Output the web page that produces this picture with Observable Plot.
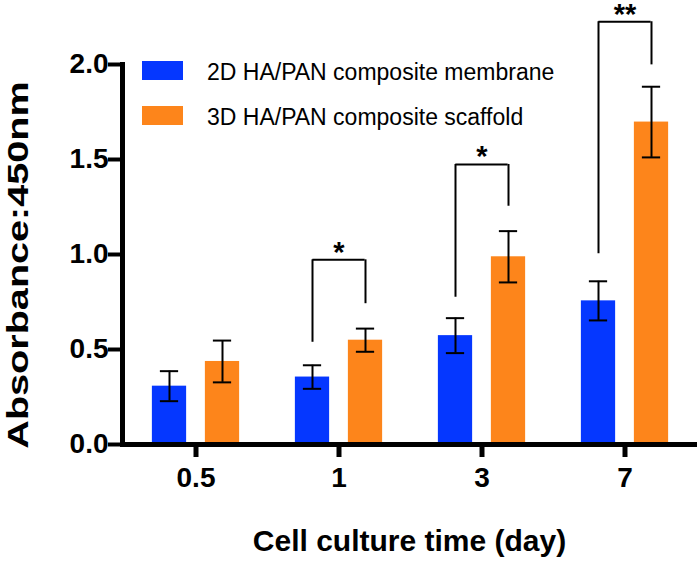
<!DOCTYPE html>
<html>
<head>
<meta charset="utf-8">
<script src="https://cdn.jsdelivr.net/npm/d3@7"></script>
<script src="https://cdn.jsdelivr.net/npm/@observablehq/plot@0.6"></script>
<style>
  html, body { margin: 0; padding: 0; background: #fff; }
  #chart { width: 698px; height: 561px; }
</style>
</head>
<body>
<div id="chart"></div>
<script>
// ---- data ----
const days = ["0.5", "1", "3", "7"];
const seriesNames = ["2D HA/PAN composite membrane", "3D HA/PAN composite scaffold"];
const seriesColors = ["#0537ff", "#fd851b"];
const mean2D = [0.307, 0.355, 0.573, 0.756];
const sd2D = [0.079, 0.062, 0.092, 0.103];
const mean3D = [0.437, 0.549, 0.988, 1.697];
const sd3D = [0.110, 0.061, 0.135, 0.186];
const sigDays = ["1", "3", "7"];
const sigLabels = ["*", "*", "**"];
const bracketTop = [0.972, 1.474, 2.225];
const bracketLeftLow = [0.538, 0.775, 1.004];
const bracketRightLow = [0.741, 1.254, 1.998];
const yTicks = [0, 0.5, 1.0, 1.5, 2.0];
const yTitle = "Absorbance:450nm";
const xTitle = "Cell culture time (day)";

// ---- tables ----
const mk = (means, sds, s) => days.map((d, i) => ({
  day: d, series: seriesNames[s], mean: means[i], lo: means[i] - sds[i], hi: means[i] + sds[i]
}));
const rows2D = mk(mean2D, sd2D, 0);
const rows3D = mk(mean3D, sd3D, 1);
const brackets = sigDays.map((d, i) => ({
  day: d, label: sigLabels[i], top: bracketTop[i], left: bracketLeftLow[i], right: bracketRightLow[i]
}));

// ---- layout ----
const W = 698, H = 561, mL = 122, mR = 1, mT = 64, mB = 117;
const FONT = "'Liberation Sans', Arial, Helvetica, sans-serif";
const step = (W - mL - mR) / days.length, half = step / 2;
const barW = 35, gap = 18, off = (barW + gap) / 2, capW = 19;
const barInset = c => ({insetLeft: half + c - barW / 2, insetRight: half - c - barW / 2});
const capInset = c => ({insetLeft: half + c - capW / 2, insetRight: half - c - capW / 2});

const errMarks = (rows, c) => [
  Plot.ruleX(rows, {x: "day", y1: "lo", y2: "hi", dx: c, stroke: "#000", strokeWidth: 2}),
  Plot.tickY(rows, {x: "day", y: "hi", stroke: "#000", strokeWidth: 2, ...capInset(c)}),
  Plot.tickY(rows, {x: "day", y: "lo", stroke: "#000", strokeWidth: 2, ...capInset(c)})
];

const svg = Plot.plot({
  width: W, height: H,
  marginLeft: mL, marginRight: mR, marginTop: mT, marginBottom: mB,
  style: {fontFamily: FONT, background: "white", color: "#000", overflow: "visible"},
  x: {type: "band", domain: days, padding: 0, axis: null},
  y: {domain: [0, 2], axis: null},
  marks: [
    Plot.barY(rows2D, {x: "day", y: "mean", fill: seriesColors[0], ...barInset(-off)}),
    Plot.barY(rows3D, {x: "day", y: "mean", fill: seriesColors[1], ...barInset(off)}),
    ...errMarks(rows2D, -off),
    ...errMarks(rows3D, off),
    Plot.ruleX(brackets, {x: "day", y1: "left", y2: "top", dx: -off, stroke: "#000", strokeWidth: 2}),
    Plot.ruleX(brackets, {x: "day", y1: "right", y2: "top", dx: off, stroke: "#000", strokeWidth: 2}),
    Plot.tickY(brackets, {x: "day", y: "top", stroke: "#000", strokeWidth: 2, insetLeft: half - off, insetRight: half - off}),
    Plot.text(brackets, {x: "day", y: "top", text: "label", lineAnchor: "bottom", dy: 2, fontSize: 29, fontWeight: "bold", fill: "#000"}),
    Plot.axisY({anchor: "left", ticks: yTicks, tickFormat: d3.format(".1f"), tickSize: 14, tickPadding: 0,
      strokeWidth: 4, fontSize: 28, fontWeight: "bold", label: null}),
    Plot.axisX({anchor: "bottom", tickSize: 13, tickPadding: 10, strokeWidth: 5, fontSize: 28, fontWeight: "bold", label: null}),
    Plot.ruleY([0], {stroke: "#000", strokeWidth: 5}),
    Plot.frame({anchor: "left", stroke: "#000", strokeWidth: 5})
  ]
});

// ---- titles & legend ----
const s = d3.select(svg);
s.append("text")
  .attr("transform", "translate(28,265) rotate(-90) scale(1.32,1)")
  .attr("text-anchor", "middle")
  .attr("font-family", FONT).attr("font-weight", "bold").attr("font-size", 30)
  .attr("fill", "#000")
  .text(yTitle);
s.append("text")
  .attr("x", (mL + W - mR) / 2).attr("y", 551)
  .attr("text-anchor", "middle")
  .attr("font-family", FONT).attr("font-weight", "bold").attr("font-size", 30)
  .attr("fill", "#000")
  .text(xTitle);
const lg = s.append("g").attr("text-anchor", "start");
seriesNames.forEach((name, i) => {
  lg.append("rect").attr("x", 142).attr("y", 61 + i * 45).attr("width", 41).attr("height", 19)
    .attr("fill", seriesColors[i]);
  lg.append("text").attr("x", 207).attr("y", 80 + i * 45)
    .attr("text-anchor", "start")
    .attr("font-family", FONT).attr("font-size", 23).attr("fill", "#000")
    .text(name);
});

document.getElementById("chart").appendChild(svg);
</script>
</body>
</html>
